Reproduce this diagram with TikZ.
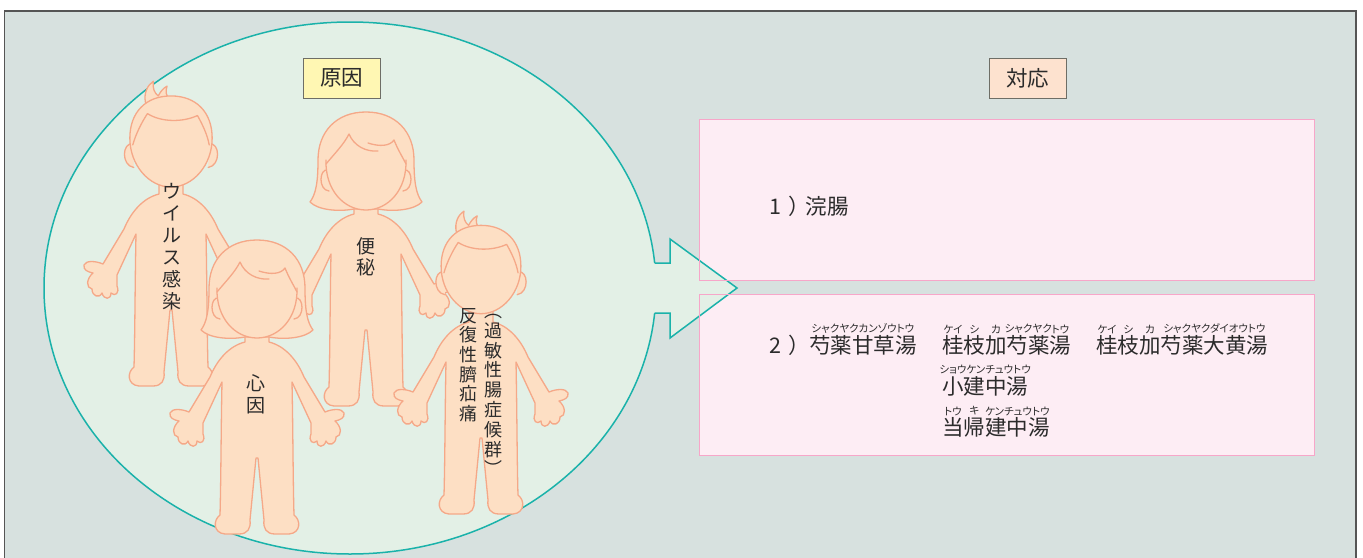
\documentclass[tikz,border=0pt]{standalone}
\usepackage{fontspec}
\setmainfont{Noto Sans CJK JP}
\newfontfamily\furifam{Noto Sans CJK JP}[RawFeature=+palt]
\definecolor{bgfill}{HTML}{D7E1DF}
\definecolor{framecol}{HTML}{555555}
\definecolor{ellfill}{HTML}{E3F0E6}
\definecolor{rimteal}{HTML}{1AB2AA}
\definecolor{kidfill}{HTML}{FDDFC4}
\definecolor{kidline}{HTML}{F5A888}
\definecolor{pinkfill}{HTML}{FDEDF4}
\definecolor{pinkline}{HTML}{F7A6C9}
\definecolor{yelfill}{HTML}{FFF7B3}
\definecolor{peachfill}{HTML}{FDE2CF}
\definecolor{boxline}{HTML}{6E6E66}
\definecolor{ink}{HTML}{2B2B2B}
% furigana: small reading centred above its base text
\newcommand\furifont{\furifam\fontsize{10.5pt}{10.5pt}\selectfont}
\newcommand\furi[2]{\setbox0\hbox{#1}\leavevmode\vbox{\offinterlineskip\hbox to\wd0{\hss{\furifont#2}\hss}\kern1.5pt\box0}}
\tikzset{
  kid/.style={fill=kidfill, draw=kidline, line width=1.3pt, line join=round, line cap=round},
  kidstroke/.style={draw=kidline, line width=1.3pt, line cap=round, line join=round},
  vlabel/.style={font=\fontsize{19pt}{22pt}\selectfont, align=center, inner sep=0pt, text=ink},
  maintext/.style={font=\fontsize{21.5pt}{26pt}\selectfont, inner sep=0pt, anchor=base west, text=ink},
  tag/.style={font=\fontsize{21.5pt}{26pt}\selectfont, draw=boxline, line width=1pt, inner sep=0pt,
              minimum width=77pt, minimum height=40pt, text=ink},
  pinkbox/.style={fill=pinkfill, inner sep=0pt, minimum width=614pt, minimum height=160pt},
  % body with arms, hands and legs; origin at the centre of the head
  pics/kidbody/.style={code={
    \path[kid] (-12,40) -- (-12,52) .. controls (-28,56) and (-40,70) .. (-47,87) -- (-68,122)
      .. controls (-75,119) and (-85,118) .. (-87,123)
      .. controls (-88,128) and (-83,130) .. (-78,131)
      .. controls (-85,137) and (-85,146) .. (-79,147)
      .. controls (-79,154) and (-72,157) .. (-69,151)
      .. controls (-67,158) and (-60,158) .. (-60,151)
      .. controls (-56,155) and (-51,151) .. (-54,144)
      -- (-54,133) -- (-35,92) .. controls (-36,140) and (-36,190) .. (-37,225)
      .. controls (-44,230) and (-44,243) .. (-32,244) -- (-18,244)
      .. controls (-9,244) and (-6,238) .. (-7,230)
      -- (-1,168) -- (1,168) -- (7,230)
      .. controls (6,238) and (9,244) .. (18,244) -- (32,244)
      .. controls (44,243) and (44,230) .. (37,225)
      .. controls (36,190) and (36,140) .. (35,92) -- (54,133) -- (54,144)
      .. controls (51,151) and (56,155) .. (60,151)
      .. controls (60,158) and (67,158) .. (69,151)
      .. controls (72,157) and (79,154) .. (79,147)
      .. controls (85,146) and (85,137) .. (78,131)
      .. controls (83,130) and (88,128) .. (87,123)
      .. controls (85,118) and (75,119) .. (68,122)
      -- (47,87) .. controls (40,70) and (28,56) .. (12,52) -- (12,40) -- cycle;
  }},
  pics/boy/.style={code={
    \pic {kidbody};
    \path[kid] (-39,2) .. controls (-50,0) and (-51,24) .. (-38,26);
    \path[kid] (39,2) .. controls (50,0) and (51,24) .. (38,26);
    \path[kid] (-26,-40) .. controls (-28,-50) and (-24,-58) .. (-18,-62)
      .. controls (-19,-55) and (-17,-50) .. (-13,-47)
      .. controls (-11,-51) and (-8,-55) .. (-4,-57)
      .. controls (-6,-52) and (-5,-47) .. (-1,-42);
    \path[kid] (0,-47) .. controls (26,-47) and (42,-30) .. (42,-4)
      .. controls (42,24) and (22,46) .. (0,46)
      .. controls (-22,46) and (-42,24) .. (-42,-4)
      .. controls (-42,-30) and (-26,-47) .. (0,-47) -- cycle;
    \path[kidstroke] (-39,3) .. controls (-36,-8) and (-30,-20) .. (-24,-29)
      .. controls (-10,-20) and (12,-20) .. (27,-27)
      .. controls (32,-18) and (37,-8) .. (39,3);
  }},
  pics/girl/.style={code={
    \pic {kidbody};
    \path[kid] (0,-50) .. controls (30,-50) and (48,-30) .. (48,-2)
      .. controls (48,20) and (50,32) .. (56,40)
      .. controls (48,48) and (28,50) .. (12,47) -- (-12,47)
      .. controls (-28,50) and (-48,48) .. (-56,40)
      .. controls (-50,32) and (-48,20) .. (-48,-2)
      .. controls (-48,-30) and (-30,-50) .. (0,-50) -- cycle;
    \path[kid] (-38,8) .. controls (-47,6) and (-48,28) .. (-37,29);
    \path[kid] (38,8) .. controls (47,6) and (48,28) .. (37,29);
    \path[kid] (-40,-2) .. controls (-41,28) and (-22,48) .. (0,48)
      .. controls (22,48) and (41,28) .. (40,-2);
    \path[kidstroke] (-40,2) .. controls (-30,-10) and (-22,-18) .. (-17,-28)
      .. controls (-12,-16) and (0,-10) .. (12,-11);
    \path[kidstroke] (2,-19) .. controls (14,-15) and (24,-16) .. (28,-22)
      .. controls (32,-12) and (36,-6) .. (40,2);
  }},
}
\begin{document}
\begin{tikzpicture}[x=1pt,y=-1pt]
\useasboundingbox (0,0) rectangle (1363,557);
\clip (0,0) rectangle (1363,557);
\fill[white] (0,0) rectangle (1363,557);
% outer panel
\path[fill=bgfill, draw=framecol, line width=1.3pt] (4.5,11) rectangle (1356,590);

% treatment panels (fill first, outline after the arrow)
\node[pinkbox] (treat1) at (1007,200) {};
\node[pinkbox] (treat2) at (1007,375) {};

% causes: ellipse joined to an arrow
\path[fill=ellfill, draw=rimteal, line width=1.5pt] (350,288) ellipse [x radius=306, y radius=266];
\fill[ellfill] (640,263) -- (670,263) -- (670,239) -- (737,288) -- (670,338) -- (670,313) -- (640,313) -- cycle;
\draw[rimteal, line width=1.5pt, line join=miter] (654.6,263) -- (670,263) -- (670,239) -- (737,288)
   -- (670,338) -- (670,313) -- (654.6,313);

\draw[pinkline, line width=1.3pt] (treat1.south west) rectangle (treat1.north east);
\draw[pinkline, line width=1.3pt] (treat2.south west) rectangle (treat2.north east);

% children
\pic[scale=0.98] at (171,142) {boy};
\pic at (366,162) {girl};
\pic[scale=0.95] at (481,270) {boy};
\pic at (257,290) {girl};

% labels on the children
\node[vlabel] (virus) at (172,247) {ウ\\イ\\ル\\ス\\感\\染};
\node[vlabel, font=\fontsize{19pt}{21pt}\selectfont] (constip) at (366,257) {便\\秘};
\node[vlabel] (psych) at (256,394) {心\\因};
\node[vlabel, font=\fontsize{18pt}{19.6pt}\selectfont] (rap) at (468,365) {反\\復\\性\\臍\\疝\\痛};
\node[vlabel, font=\fontsize{18pt}{19.8pt}\selectfont] (ibs) at (493,395) {︵\\過\\敏\\性\\腸\\症\\候\\群\\︶};

% headings
\node[tag, fill=yelfill] (cause) at (341.5,78) {原因};
\node[tag, fill=peachfill] (resp) at (1027.5,78) {対応};

% treatments
\node[maintext] (t1) at (769,214) {1\kern7pt）\kern-4pt浣腸};
\node[maintext] (t2) at (769,353) {2\kern7pt）};
\node[maintext] (k1) at (809,353) {\furi{芍薬甘草湯}{シャクヤクカンゾウトウ}};
\node[maintext] (k2) at (942,353) {\furi{桂}{ケイ}\furi{枝}{シ}\furi{加}{カ}\furi{芍薬}{シャクヤク}\furi{湯}{トウ}};
\node[maintext] (k3) at (1096,353) {\furi{桂}{ケイ}\furi{枝}{シ}\furi{加}{カ}\furi{芍薬大黄湯}{シャクヤクダイオウトウ}};
\node[maintext] (k4) at (942,394) {\furi{小建中湯}{ショウケンチュウトウ}};
\node[maintext] (k5) at (942,435) {\furi{当}{トウ}\furi{帰}{キ}\furi{建中湯}{ケンチュウトウ}};
\end{tikzpicture}
\end{document}
